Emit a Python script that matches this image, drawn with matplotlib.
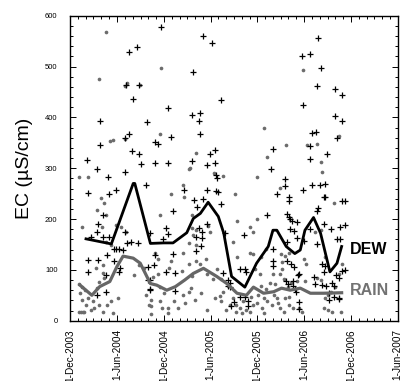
import numpy as np
import matplotlib
matplotlib.use("Agg")
import matplotlib.pyplot as plt
import matplotlib.dates as mdates
from matplotlib.ticker import MultipleLocator

plt.rcParams["font.family"] = ["Liberation Sans", "DejaVu Sans"]

START = "2003-12-01"
END = "2007-06-01"
tick_dates = ["2003-12-01", "2004-06-01", "2004-12-01", "2005-06-01",
              "2005-12-01", "2006-06-01", "2006-12-01", "2007-06-01"]
tick_labels = ["1-Dec-2003", "1-Jun-2004", "1-Dec-2004", "1-Jun-2005",
               "1-Dec-2005", "1-Jun-2006", "1-Dec-2006", "1-Jun-2007"]

# samples: months after 1-Dec-2003, EC in uS/cm
dew_month = [2.2, 2.3, 3.4, 3.85, 3.85, 7.5, 8.6, 8.1, 8.9, 7.2, 7.6, 7.1, 8.0, 8.9, 9.1, 9.9, 9.7, 10.9,
             11.6, 11.3, 10.9, 12.5, 12.5, 13.0, 15.7, 15.6, 16.7, 16.5, 16.6, 15.6, 17.1, 18.2, 17.9, 17.5,
             18.6, 18.6, 18.7, 18.9, 19.4, 25.7, 26.5, 26.0, 25.2, 29.7, 30.7, 31.8, 31.6, 32.2, 29.8, 31.0,
             31.5, 30.7, 30.8, 31.97, 31.0, 34.0, 34.8, 34.0, 34.8, 34.2, 32.9, 32.5, 34.8, 34.6, 34.8, 34.4,
             4.9, 5.9, 5.0, 7.0, 4.2, 3.6, 3.5, 4.2, 2.7, 5.0, 7.0, 7.3, 6.3, 5.9, 5.6, 6.75, 4.8, 2.3, 3.6,
             5.7, 6.45, 6.3, 2.3, 4.6, 4.6, 3.5, 10.2, 10.3, 10.0, 8.7, 7.8,
             18.8, 14.6, 17.5, 18.7, 15.9, 17.0, 19.3, 16.3, 13.2, 17.5, 12.3, 12.6, 11.9, 16.5, 16.9, 16.1,
             16.9, 16.8, 16.1, 13.2, 10.9, 10.7, 13.4, 12.3, 10.0, 10.2, 13.4, 19.6, 20.3, 20.5, 19.9, 10.3,
             27.6, 27.6, 29.9, 28.0, 28.0, 27.8, 28.0, 28.2, 28.5, 29.1, 28.2, 28.7, 22.35, 30.8, 27.8, 29.1,
             30.0, 26.0, 26.0, 26.0, 27.8, 28.3, 28.7, 29.4, 29.2, 28.6, 27.7, 27.9, 28.6, 28.8, 29.0, 31.2,
             31.4, 21.8, 22.4, 22.6, 20.3, 20.5, 21.8, 22.4, 21.0, 22.8, 22.8, 20.6, 29.4, 29.4,
             32.7, 32.7, 35.2, 31.8, 31.6, 32.5, 33.4, 35.2, 34.2, 34.6, 31.7, 32.3, 32.7, 32.6, 35.2, 34.1,
             34.4, 32.3, 32.8, 33.6, 33.8, 33.2, 33.8, 34.4, 33.2]
dew_ec = [316, 252, 298, 393, 346, 529, 538, 437, 463, 464, 367, 359, 334, 328, 308, 391, 267, 311,
          577, 348, 352, 311, 418, 361, 490, 405, 408, 393, 367, 315, 560, 547, 327, 306,
          311, 335, 286, 253, 434, 298, 249, 338, 208, 521, 524, 557, 462, 498, 425, 369,
          372, 344, 319, 267, 266, 455, 444, 403, 393, 359, 327, 244, 235, 185, 98, 42,
          283, 257, 249, 292, 208, 191, 175, 165, 165, 165, 175, 152, 142, 142, 142, 139, 129, 119, 119,
          117, 103, 96, 95, 90, 57, 50, 80, 60, 106, 152, 155,
          281, 257, 257, 255, 237, 240, 230, 224, 216, 190, 182, 170, 161, 182, 175, 165,
          162, 146, 137, 132, 129, 110, 93, 96, 80, 62, 59, 93, 80, 74, 172, 172,
          279, 264, 257, 243, 236, 210, 203, 200, 196, 195, 180, 177, 169, 180, 154, 163,
          157, 141, 118, 107, 118, 111, 105, 92, 89, 79, 79, 72, 69, 62, 56, 85,
          72, 102, 102, 95, 69, 66, 46, 46, 36, 38, 28, 28, 36, 23,
          268, 243, 236, 222, 216, 190, 181, 188, 161, 161, 151, 112, 108, 95, 99, 89,
          83, 70, 68, 74, 68, 54, 47, 44, 41]

rain_month = [4.6, 3.7, 11.7, 29.8, 32.3, 24.8, 23.9, 27.7, 1.2, 2.35, 5.5, 7.05, 7.35, 9.0, 5.1, 7.05,
              11.5, 15.3, 18.4, 16.2, 21.1, 31.7, 34.4, 30.4, 25.2, 19.6,
              4.0, 4.4, 3.5, 4.6, 1.6, 4.05, 5.9, 6.5, 7.2, 4.6, 5.3, 4.2, 3.3, 4.2, 4.4, 1.2, 1.6, 3.7,
              3.5, 2.3, 2.9, 2.05, 3.1, 3.7, 4.7, 5.3, 1.4, 1.85, 2.7, 4.2, 5.5, 6.1, 8.2, 8.9, 9.5, 9.8,
              10.1, 1.3, 1.5, 1.7, 1.2, 1.9,
              15.4, 12.9, 14.6, 14.5, 11.5, 15.6, 17.7, 15.6, 16.2, 15.8, 17.9, 15.3, 16.1, 14.5, 17.4,
              10.9, 11.3, 12.9, 12.7, 16.2, 16.6, 15.2, 14.4, 15.6, 17.5, 18.3, 18.8, 19.4, 10.6, 11.3,
              11.5, 10.4, 10.4, 11.5, 11.8, 12.0, 12.5, 12.6, 13.3, 13.8, 14.5, 15.2, 15.5, 14.7, 16.0,
              16.8, 17.5, 18.6, 19.2, 19.4, 19.6, 20.0, 20.5, 10.4,
              26.9, 21.4, 23.9, 23.0, 23.5, 20.9, 21.4, 23.0, 23.5, 24.5, 25.1, 27.0, 27.2, 27.5, 28.1,
              26.0, 26.9, 27.2, 27.4, 28.3, 27.9, 29.1, 30.1, 24.5, 25.1, 24.3, 23.7, 25.6, 26.2, 30.0,
              30.2,
              20.9, 21.3, 21.8, 22.0, 22.6, 23.0, 23.5, 23.9, 24.6, 24.8, 25.2, 25.9, 26.7, 26.9, 27.4,
              28.0, 28.6, 29.3, 29.7, 21.3, 22.2, 23.25, 24.1, 24.8, 26.1, 26.5, 27.6, 28.0,
              32.2, 33.8, 31.4, 32.1, 32.7, 31.6, 32.2, 33.0, 33.4, 32.7, 32.5, 33.0, 33.6, 34.7, 34.0,
              34.4, 34.9]
rain_ec = [567, 475, 497, 494, 293, 380, 283, 346, 283, 283, 355, 461, 467, 464, 353, 358,
           367, 298, 290, 329, 249, 347, 363, 346, 323, 284,
           241, 231, 218, 208, 185, 185, 188, 185, 175, 155, 149, 110, 103, 93, 83, 73, 67, 77,
           64, 44, 38, 31, 25, 31, 31, 38, 18, 18, 21, 18, 15, 44, 90, 110, 103, 51,
           31, 54, 41, 18, 18, 60,
           301, 250, 243, 266, 208, 208, 186, 182, 179, 169, 175, 152, 149, 134, 121,
           133, 121, 117, 103, 117, 111, 111, 98, 88, 92, 82, 102, 82, 85, 91,
           67, 41, 28, 38, 25, 54, 25, 15, 38, 25, 51, 57, 64, 34, 41,
           54, 21, 44, 48, 38, 57, 21, 31, 13,
           262, 197, 200, 184, 174, 154, 125, 134, 131, 125, 141, 131, 115, 128, 134,
           92, 92, 102, 82, 75, 66, 79, 79, 69, 62, 92, 102, 75, 72, 121,
           111,
           44, 31, 25, 15, 21, 18, 31, 34, 25, 15, 38, 31, 34, 25, 18,
           31, 25, 25, 18, 18, 38, 47, 50, 44, 50, 44, 44, 47,
           313, 231, 175, 178, 125, 83, 80, 50, 57, 44, 25, 21, 18, 18, 66,
           92, 111]

# smoothed trend lines
dew_line_month = [2.05, 5.3, 8.1, 8.3, 10.3, 12.0, 13.2, 14.96, 15.8, 16.7, 17.7, 19.0, 19.7, 20.7,
                  22.4, 23.9, 25.4, 26.0, 26.5, 27.7, 28.8, 29.5, 30.1, 31.2, 32.1, 33.3, 34.2, 34.8]
dew_line_ec = [161, 151, 270, 270, 152, 153, 153, 173, 201, 211, 233, 205, 172, 87,
               66, 113, 146, 178, 178, 146, 132, 139, 178, 203, 172, 96, 113, 146]
rain_line_month = [1.28, 2.8, 3.8, 5.1, 6.0, 6.8, 8.1, 9.0, 10.3, 11.1, 12.4, 13.5, 14.7, 15.8, 17.1,
                   18.8, 20.1, 21.4, 22.6, 23.5, 24.8, 26.1, 27.1, 28.2, 29.5, 30.8, 32.5, 34.8]
rain_line_ec = [70, 50, 67, 77, 106, 127, 123, 113, 73, 70, 60, 67, 80, 93, 103,
                87, 73, 54, 50, 66, 54, 57, 64, 60, 64, 54, 54, 55]

DAYS_PER_MONTH = 30.44
base = mdates.datestr2num(START)


def to_x(months):
    return base + np.array(months) * DAYS_PER_MONTH


fig = plt.figure(figsize=(4.06, 3.81), dpi=100)
ax = fig.add_axes([0.1724, 0.1583, 0.8072, 0.8005])

ax.scatter(to_x(rain_month), rain_ec, s=7, color="#6c6c6c", marker="o", linewidths=0, zorder=2)
ax.scatter(to_x(dew_month), dew_ec, s=20, color="black", marker="+", linewidths=0.9, zorder=3)
ax.plot(to_x(rain_line_month), rain_line_ec, color="#666666", lw=2.3, zorder=4)
ax.plot(to_x(dew_line_month), dew_line_ec, color="black", lw=2.0, zorder=5)

ax.text(to_x([35.8])[0], 140, "DEW", fontsize=11.5, fontweight="bold", va="center", ha="left")
ax.text(to_x([35.8])[0], 60, "RAIN", fontsize=11.5, fontweight="bold", va="center", ha="left",
        color="#727272")

ax.set_xlim(mdates.datestr2num(START), mdates.datestr2num(END))
ax.set_ylim(0, 600)
ax.set_xticks([mdates.datestr2num(d) for d in tick_dates])
ax.set_xticklabels(tick_labels, rotation=90, fontsize=7.2)
ax.xaxis.set_minor_locator(mdates.MonthLocator())
ax.yaxis.set_major_locator(MultipleLocator(100))
ax.yaxis.set_minor_locator(MultipleLocator(20))
ax.tick_params(axis="both", which="both", direction="in", top=True, right=True, width=0.7)
ax.tick_params(axis="both", which="major", length=4)
ax.tick_params(axis="both", which="minor", length=2.5)
ax.tick_params(axis="y", labelsize=5.5, pad=9)
ax.tick_params(axis="x", pad=6)
for s in ax.spines.values():
    s.set_linewidth(1.0)

ax.set_ylabel("EC (µS/cm)", fontsize=14)
ax.yaxis.set_label_coords(-0.113, 0.5)

fig.savefig("out.png", dpi=100)
